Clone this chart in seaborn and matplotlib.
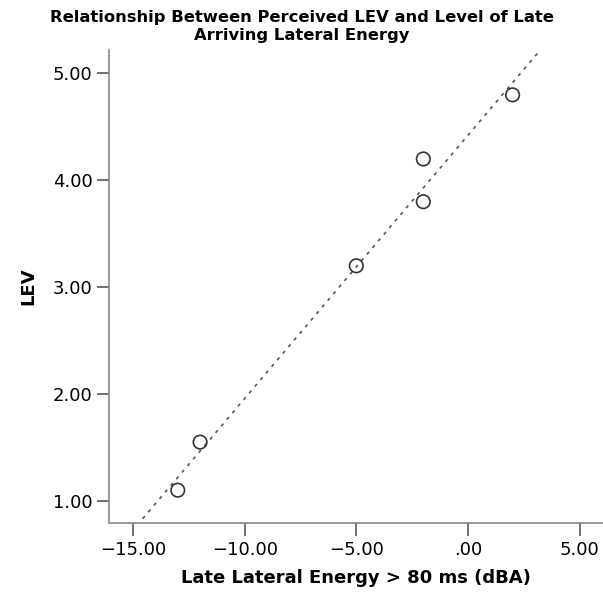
import numpy as np
import pandas as pd
import matplotlib
matplotlib.use("Agg")
import matplotlib.pyplot as plt
import seaborn as sns

# data
late_energy = [-13.0, -12.0, -5.0, -2.0, -2.0, 2.0]
lev = [1.10, 1.55, 3.20, 4.20, 3.80, 4.80]

x_ticks = [-15, -10, -5, 0, 5]
x_tick_labels = ["\u221215.00", "\u221210.00", "\u22125.00", ".00", "5.00"]
y_ticks = [1, 2, 3, 4, 5]
y_tick_labels = ["1.00", "2.00", "3.00", "4.00", "5.00"]

df = pd.DataFrame({"late": late_energy, "lev": lev})

sns.set_style("white")
plt.rcParams["font.family"] = ["DejaVu Sans"]
plt.rcParams["text.color"] = "black"
plt.rcParams["axes.labelcolor"] = "black"

fig = plt.figure(figsize=(6.03, 5.98), dpi=100)
ax = fig.add_axes([0.1808, 0.1249, 0.8192, 0.7915])

ax.set_xlim(-16.08, 6.05)
ax.set_ylim(0.79, 5.22)

# fit line across the whole axis, dotted like the SPSS output
sns.regplot(data=df, x="late", y="lev", ax=ax, ci=None, scatter=False,
            truncate=False,
            line_kws=dict(color="#555555", lw=1.2, linestyle=(0, (2, 3.2))))

sns.scatterplot(data=df, x="late", y="lev", ax=ax, s=95,
                facecolor="none", edgecolor="#333333", linewidth=1.2,
                zorder=3)

ax.set_xticks(x_ticks, x_tick_labels)
ax.set_yticks(y_ticks, y_tick_labels)
ax.tick_params(axis="both", direction="out", length=9, width=1.3,
               color="#666666", labelsize=13, labelcolor="black", pad=3)
ax.tick_params(axis="x", bottom=True, pad=4)
ax.tick_params(axis="y", left=True)

for side in ["top", "right"]:
    ax.spines[side].set_visible(False)
for side in ["left", "bottom"]:
    ax.spines[side].set_color("#888888")
    ax.spines[side].set_linewidth(1.2)

ax.set_xlabel("Late Lateral Energy > 80 ms (dBA)", fontsize=13,
              fontweight="bold", labelpad=7)
ax.set_ylabel("LEV", fontsize=13, fontweight="bold", labelpad=11)

fig.suptitle("Relationship Between Perceived LEV and Level of Late\nArriving Lateral Energy",
             x=0.5, y=0.983, fontsize=11.8, fontweight="bold", linespacing=1.2)

fig.savefig("out.png", dpi=100)
